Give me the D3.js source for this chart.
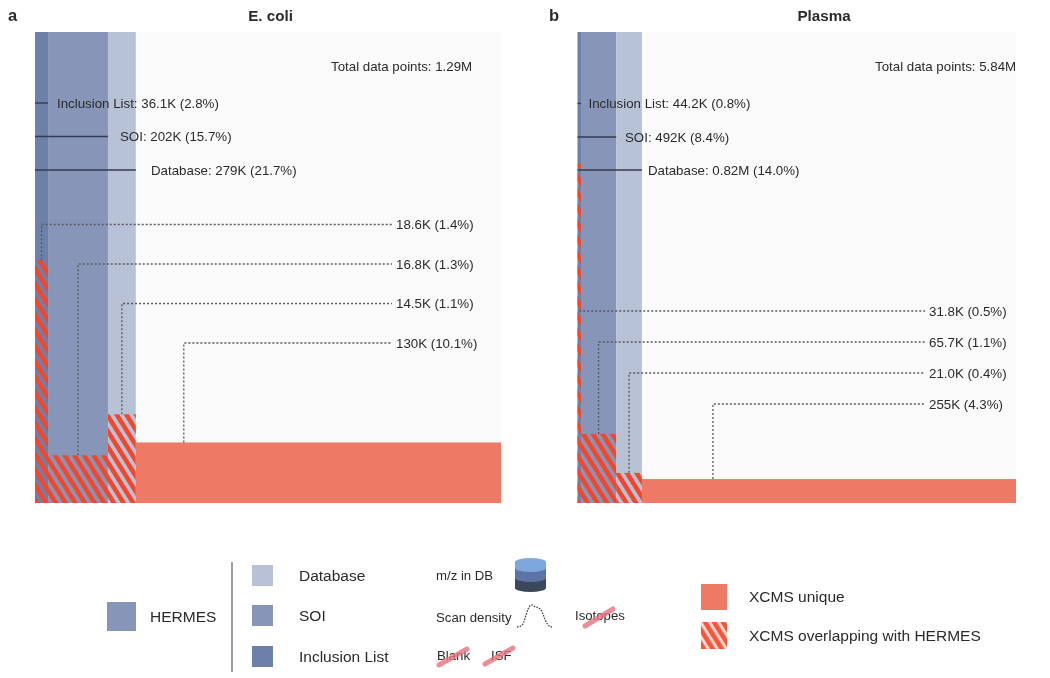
<!DOCTYPE html>
<html><head><meta charset="utf-8">
<script src="https://cdn.jsdelivr.net/npm/d3@7/dist/d3.min.js"></script>
<style>html,body{margin:0;background:#fff}svg{display:block;filter:blur(0.35px)}text{font-family:"Liberation Sans",Arial,sans-serif;fill:#2b2b2b}</style>
</head><body><div id="c"></div>
<script>
// counts in thousands
const panels = ["a", "b"];
const titles = ["E. coli", "Plasma"];
const totals = [1290, 5840];
const totalLabels = ["1.29M", "5.84M"];
const tierNames = ["Inclusion List", "SOI", "Database"];
const ecoliCum = [36.1, 202, 279];
const plasmaCum = [44.2, 492, 820];
const ecoliCumLabels = ["36.1K (2.8%)", "202K (15.7%)", "279K (21.7%)"];
const plasmaCumLabels = ["44.2K (0.8%)", "492K (8.4%)", "0.82M (14.0%)"];
const ecoliXcms = [18.6, 16.8, 14.5, 130];
const plasmaXcms = [31.8, 65.7, 21.0, 255];
const ecoliXcmsLabels = ["18.6K (1.4%)", "16.8K (1.3%)", "14.5K (1.1%)", "130K (10.1%)"];
const plasmaXcmsLabels = ["31.8K (0.5%)", "65.7K (1.1%)", "21.0K (0.4%)", "255K (4.3%)"];
const plasmaVisibleMax = 5580;
const scanDensity = [0,0.02,0.06,0.2,0.5,0.8,0.97,1,0.93,0.9,0.85,0.78,0.55,0.3,0.12,0.03,0];

const colors = {incl:"#6c80aa", soi:"#8796b8", db:"#b7c2d6", uniq:"#ee7a66", stripe:"#f2472c", bg:"#fafafa", rule:"#333b50", dot:"#5a5a5a"};
const tierColors = [colors.incl, colors.soi, colors.db];
const labelSize = 13.3;

const svg = d3.select("#c").append("svg").attr("width",1050).attr("height",678);
const defs = svg.append("defs");
const pat = defs.append("pattern").attr("id","hatch").attr("patternUnits","userSpaceOnUse")
  .attr("width",8.2).attr("height",8.2).attr("patternTransform","rotate(-32)");
pat.append("rect").attr("width",4.6).attr("height",8.2).attr("fill",colors.stripe);
const pat2 = defs.append("pattern").attr("id","hatch2").attr("patternUnits","userSpaceOnUse")
  .attr("width",7.6).attr("height",7.6).attr("patternTransform","rotate(-32)");
pat2.append("rect").attr("width",7.6).attr("height",7.6).attr("fill","#fbd9cf");
pat2.append("rect").attr("width",4.6).attr("height",7.6).attr("fill","#f9553a");

const y = d3.scaleLinear().domain([0,1]).range([503,32]);

function panel(o){
  const g = svg.append("g");
  const x = d3.scaleLinear().domain([0,o.xMax]).range(o.xr);
  const edges = [0,...o.cum];
  g.append("rect").attr("x",x(0)).attr("y",y(1)).attr("width",o.xr[1]-o.xr[0]).attr("height",y(0)-y(1)).attr("fill",colors.bg);
  g.selectAll(".t").data(o.cum).join("rect")
    .attr("x",(d,i)=>x(edges[i])).attr("width",(d,i)=>x(d)-x(edges[i]))
    .attr("y",y(1)).attr("height",y(0)-y(1)).attr("fill",(d,i)=>tierColors[i]);
  const share = o.cum.map((d,i)=>o.xcms[i]/(d-edges[i]));
  g.selectAll(".h").data(share).join("rect")
    .attr("x",(d,i)=>x(edges[i])).attr("width",(d,i)=>x(edges[i+1])-x(edges[i]))
    .attr("y",d=>y(d)).attr("height",d=>y(0)-y(d)).attr("fill","url(#hatch)");
  const uShare = o.xcms[3]/(o.total-o.cum[2]);
  g.append("rect").attr("x",x(o.cum[2])).attr("width",o.xr[1]-x(o.cum[2]))
    .attr("y",y(uShare)).attr("height",y(0)-y(uShare)).attr("fill",colors.uniq);
  o.ruleY.forEach((ry,i)=>{
    g.append("line").attr("x1",x(0)).attr("x2",x(o.cum[i])).attr("y1",ry).attr("y2",ry)
      .attr("stroke",colors.rule).attr("stroke-width",1.4);
    g.append("text").attr("x",o.ruleTx[i]).attr("y",ry+4.5).attr("font-size",labelSize)
      .text(tierNames[i]+": "+o.cumLabels[i]);
  });
  g.append("text").attr("x",o.totalX).attr("y",70.5).attr("font-size",labelSize).text("Total data points: "+o.totalLabel);
  const tops = [...share,uShare];
  const vx = [0,1,2].map(i=>(x(edges[i])+x(edges[i+1]))/2).concat(x(o.cum[2])+o.uniqOffset);
  o.xcms.forEach((d,i)=>{
    const ly = o.leadY[i];
    const start = o.leadFrom && o.leadFrom[i]!==undefined ? o.leadFrom[i] : y(tops[i]);
    g.append("path").attr("fill","none").attr("stroke",colors.dot).attr("stroke-width",1.3)
      .attr("stroke-dasharray","2,2")
      .attr("d",d3.line()([[vx[i],start],[vx[i],ly],[o.leadEnd,ly]]));
    g.append("text").attr("x",o.leadEnd+4).attr("y",ly+4.5).attr("font-size",labelSize).text(o.xcmsLabels[i]);
  });
  g.append("text").attr("x",o.letterX).attr("y",21).attr("font-size",16.5).attr("font-weight","bold").attr("fill","#222").text(o.letter);
  g.append("text").attr("x",o.titleX).attr("y",21).attr("text-anchor","middle").attr("font-size",15.2).attr("font-weight","bold").text(o.title);
}
panel({letter:panels[0],letterX:8,title:titles[0],titleX:270.5,total:totals[0],totalLabel:totalLabels[0],totalX:331,
  xMax:totals[0],xr:[35,501],cum:ecoliCum,cumLabels:ecoliCumLabels,xcms:ecoliXcms,xcmsLabels:ecoliXcmsLabels,
  ruleY:[103,136.5,170],ruleTx:[57,120,151],leadY:[224.5,264,303.5,343],leadEnd:392,uniqOffset:48});
panel({letter:panels[1],letterX:549,title:titles[1],titleX:824,total:totals[1],totalLabel:totalLabels[1],totalX:875,
  xMax:plasmaVisibleMax,xr:[577.5,1016],cum:plasmaCum,cumLabels:plasmaCumLabels,xcms:plasmaXcms,xcmsLabels:plasmaXcmsLabels,
  ruleY:[103.5,137,170],ruleTx:[588.5,625,648],leadY:[311,342,373,404],leadEnd:925,uniqOffset:71,leadFrom:{0:311}});

// legend
const lg = svg.append("g");
function txt(x,yy,s,fs){return lg.append("text").attr("x",x).attr("y",yy).attr("font-size",fs).text(s);}
lg.append("rect").attr("x",107).attr("y",602).attr("width",29).attr("height",29).attr("fill",colors.soi);
txt(150,622,"HERMES",15.5);
lg.append("line").attr("x1",232).attr("x2",232).attr("y1",562).attr("y2",672).attr("stroke","#888").attr("stroke-width",1.6);
const legendY = [565,605,646];
[colors.db,colors.soi,colors.incl].forEach((c,i)=>{
  lg.append("rect").attr("x",252).attr("y",legendY[i]).attr("width",21).attr("height",21).attr("fill",c);
});
["Database","SOI","Inclusion List"].forEach((s,i)=>txt(299,legendY[i]+15.5,s,15.5));
txt(436,580,"m/z in DB",13.2);
txt(436,622,"Scan density",13.2);
txt(575,620,"Isotopes",13.2);
txt(437,660,"Blank",13.2);
txt(491,660,"ISF",13.2);
// cylinder
const cyl = lg.append("g");
const cx=530.5, rx=15.5, ry=4;
[["#3b4859",578,588],["#5c74a4",568,578],["#7da6dc",562,568]].forEach(([c,t,b])=>{
  cyl.append("path").attr("fill",c).attr("d",`M${cx-rx},${t}L${cx-rx},${b}A${rx},${ry} 0 0 0 ${cx+rx},${b}L${cx+rx},${t}Z`);
});
cyl.append("ellipse").attr("cx",cx).attr("cy",562).attr("rx",rx).attr("ry",ry).attr("fill","#7da6dc");
// scan density curve
const sx = d3.scaleLinear().domain([0,scanDensity.length-1]).range([517,552]);
const sy = d3.scaleLinear().domain([0,1]).range([627,605]);
lg.append("path").attr("fill","none").attr("stroke","#444").attr("stroke-width",1.3).attr("stroke-dasharray","1.6,1.2")
  .attr("d",d3.line().x((d,i)=>sx(i)).y(d=>sy(d)).curve(d3.curveMonotoneX)(scanDensity));
// strikes
[[[585,626],[613,609]],[[439,665],[467,649]],[[485,664],[513,648]]].forEach(s=>{
  lg.append("path").attr("stroke","#e8707a").attr("stroke-opacity",.8).attr("stroke-width",5).attr("stroke-linecap","round").attr("d",d3.line()(s));
});
lg.append("rect").attr("x",701).attr("y",584).attr("width",26).attr("height",26).attr("fill",colors.uniq);
lg.append("rect").attr("x",701).attr("y",622).attr("width",26).attr("height",27).attr("fill","url(#hatch2)");
txt(749,602,"XCMS unique",15.5);
txt(749,641,"XCMS overlapping with HERMES",15.5);
</script></body></html>
